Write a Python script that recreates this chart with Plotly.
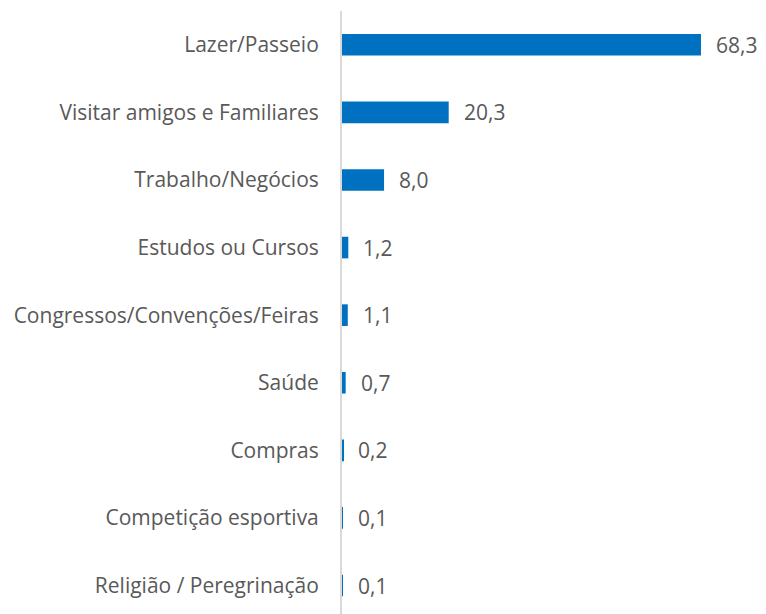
import plotly.graph_objects as go

categories = ["Lazer/Passeio", "Visitar amigos e Familiares", "Trabalho/Negócios",
              "Estudos ou Cursos", "Congressos/Convenções/Feiras", "Saúde",
              "Compras", "Competição esportiva", "Religião / Peregrinação"]
values = [68.3, 20.3, 8.0, 1.2, 1.1, 0.7, 0.2, 0.1, 0.1]

FONT = "Open Sans"
GREY = "#595959"
SIZE = 21

fig = go.Figure()
fig.add_trace(go.Bar(
    x=values, y=categories, orientation="h",
    marker=dict(color="#0070C0", line=dict(width=0)),
    width=0.32,
))

for c, v in zip(categories, values):
    fig.add_annotation(
        x=v, y=c, text=f"{v:.1f}".replace(".", ","),
        xanchor="left", yanchor="middle", xshift=13, showarrow=False,
        font=dict(family=FONT, size=SIZE, color=GREY),
    )

fig.update_layout(
    width=758, height=614,
    margin=dict(l=334, r=0, t=3, b=0, autoexpand=False),
    paper_bgcolor="white", plot_bgcolor="white",
    showlegend=False,
    xaxis=dict(range=[0, 80.67], visible=False, showgrid=False, zeroline=False),
    yaxis=dict(
        type="category", categoryorder="array", categoryarray=categories,
        range=[8.54, -0.5],
        showline=True, linecolor="#d9d9d9", linewidth=2,
        ticks="", showgrid=False,
        tickfont=dict(family=FONT, size=SIZE, color=GREY),
        ticklabelstandoff=17,
    ),
)

fig.write_html("out.html")
